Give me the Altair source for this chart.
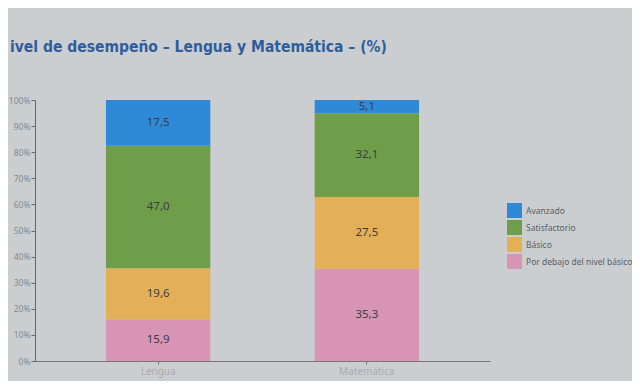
import altair as alt
import pandas as pd

subjects = ["Lengua", "Matemática"]
levels = ["Por debajo del nivel básico", "Básico", "Satisfactorio", "Avanzado"]
lengua = [15.9, 19.6, 47.0, 17.5]
matematica = [35.3, 27.5, 32.1, 5.1]
legend_order = ["Avanzado", "Satisfactorio", "Básico", "Por debajo del nivel básico"]
colors = ["#2e8ad6", "#6f9e4a", "#e3b058", "#d894b4"]
y_ticks = [0, 10, 20, 30, 40, 50, 60, 70, 80, 90, 100]

rows = []
for subj, vals in zip(subjects, [lengua, matematica]):
    for i, (lev, v) in enumerate(zip(levels, vals)):
        rows.append({"subject": subj, "level": lev, "value": v, "ord": i,
                     "label": f"{v:.1f}".replace(".", ",")})
df = pd.DataFrame(rows)

base = alt.Chart(df).encode(
    x=alt.X("subject:N", sort=subjects, title=None,
            scale=alt.Scale(paddingInner=0.5, paddingOuter=0.34),
            axis=alt.Axis(labelAngle=0, labelColor="#a8abb0", labelFontSize=10,
                          domainColor="#777", tickColor="#777", ticks=True, tickSize=3,
                          labelPadding=2)),
)

bars = base.mark_bar().encode(
    y=alt.Y("value:Q", stack="zero", title=None,
            scale=alt.Scale(domain=[0, 100], nice=False),
            axis=alt.Axis(values=y_ticks, labelExpr="datum.value + '%'",
                          labelColor="#85888d", labelFontSize=8.5, grid=False,
                          labelPadding=1, labelOverlap=False,
                          domainColor="#666", tickColor="#666", tickSize=4)),
    color=alt.Color("level:N", sort=legend_order,
                    scale=alt.Scale(domain=legend_order, range=colors),
                    legend=alt.Legend(title=None, orient="none", legendX=472, legendY=103,
                                      symbolType="square", symbolSize=225, symbolStrokeWidth=0,
                                      labelFontSize=8.5, labelColor="#5a5d62", rowPadding=2,
                                      labelFont="Noto Sans", labelLimit=200)),
    order=alt.Order("ord:Q"),
)

text = base.transform_stack(
    stack="value", groupby=["subject"], as_=["y0", "y1"], sort=[alt.SortField("ord")]
).transform_calculate(mid="(datum.y0 + datum.y1) / 2").mark_text(
    fontSize=11.5, color="#3a3d45", font="Noto Sans"
).encode(y=alt.Y("mid:Q", axis=None), text="label:N")

chart = alt.layer(bars, text).resolve_axis(y="independent").properties(
    width=455, height=261,
    background="#cbced1",
    padding={"left": 27, "top": 92, "right": 142, "bottom": 20},
    autosize=alt.AutoSizeParams(type="none"),
    title=alt.TitleParams("ivel de desempeño – Lengua y Matemática – (%)", anchor="start",
                          frame="group", dx=-25, offset=41, fontSize=15.5, color="#2f5d9c",
                          font="Liberation Sans Narrow, DejaVu Sans Condensed, sans-serif",
                          fontWeight="bold"),
).configure_view(stroke=None).configure_axis(labelFont="Noto Sans")

chart.save("out.html", embed_options={"renderer": "svg", "actions": False})
